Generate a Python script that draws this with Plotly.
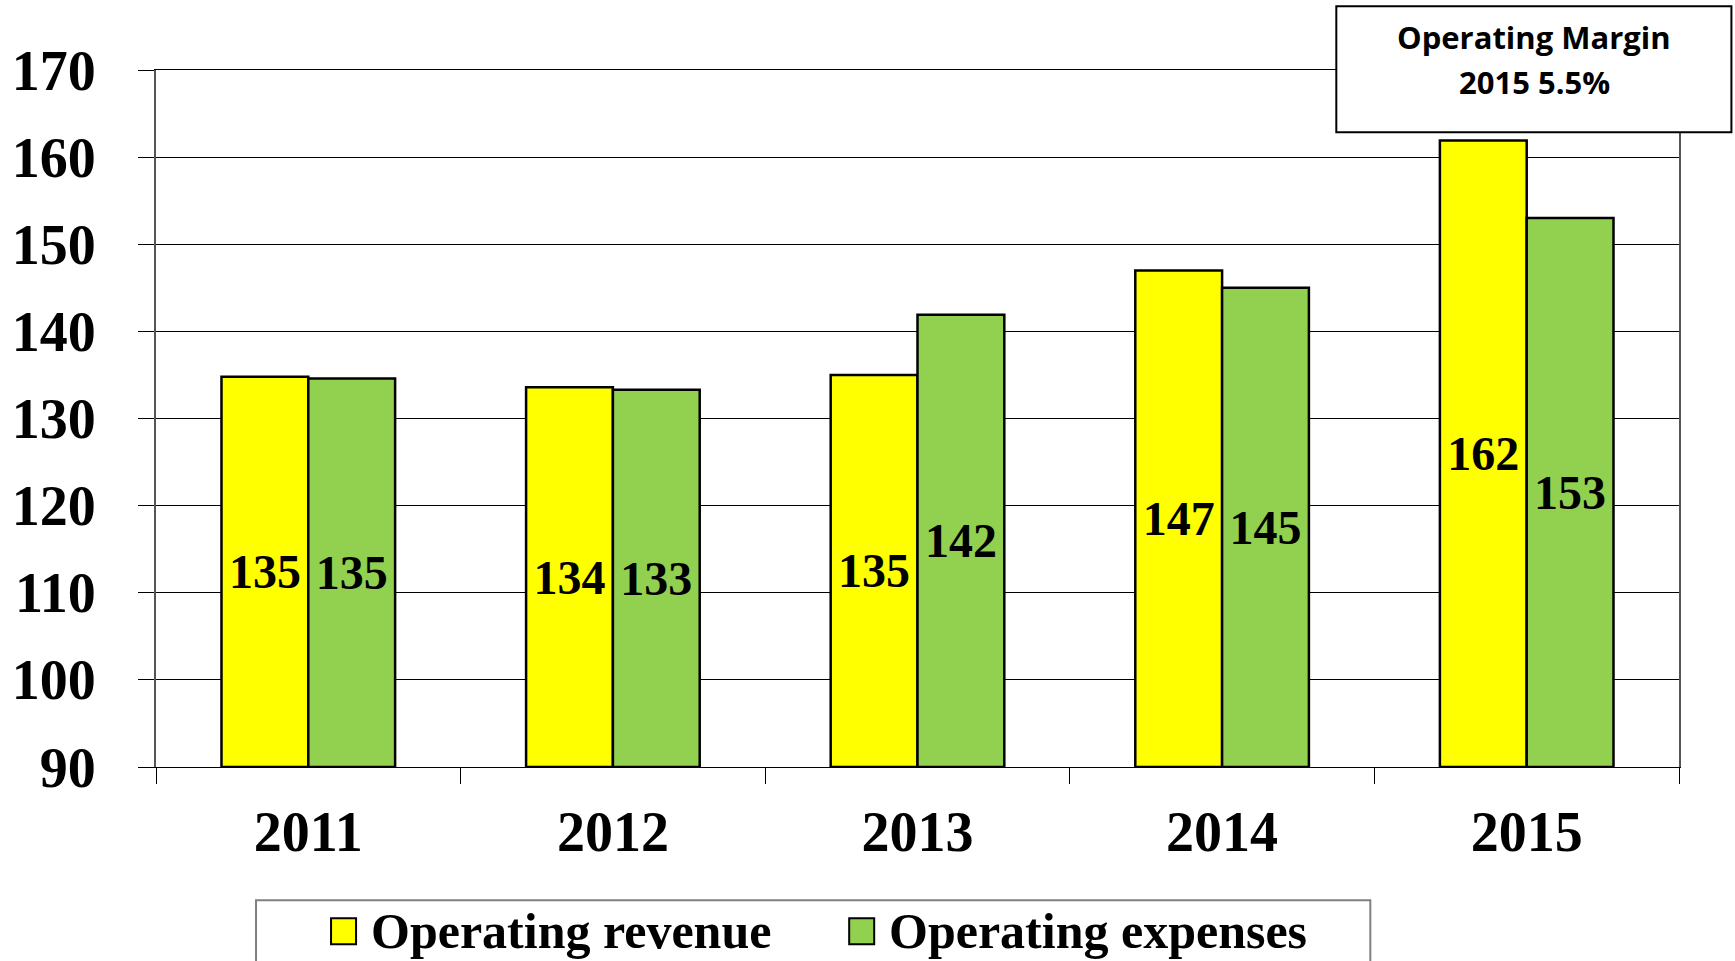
import plotly.graph_objects as go

years = ["2011", "2012", "2013", "2014", "2015"]
revenue = [134.8, 133.6, 135.0, 147.0, 161.9]
expenses = [134.6, 133.3, 141.9, 145.0, 153.0]
series_names = ["Operating revenue", "Operating expenses"]
y_ticks = [90, 100, 110, 120, 130, 140, 150, 160, 170]
note_lines = ["Operating Margin", "2015 5.5%"]
axis_base = 90

W, H = 1735, 961
L, R, T, B = 156, 1678.6, 69.7, 766.8   # page coords of plot area
YELLOW = "#FFFF00"
GREEN = "#92D050"
SERIF = "Liberation Serif"


def px(x):
    return (x - L) / (R - L)


def py(y):
    return (B - y) / (B - T)


fig = go.Figure()
for name, vals, col in [(series_names[0], revenue, YELLOW), (series_names[1], expenses, GREEN)]:
    fig.add_trace(go.Bar(
        x=years, y=[v - axis_base for v in vals], base=axis_base, name=name,
        customdata=vals,
        marker=dict(color=col, line=dict(color="black", width=2.5)),
        texttemplate="%{customdata:.0f}", textposition="inside", insidetextanchor="middle",
        textangle=0, textfont=dict(family=SERIF, size=48, color="black", weight="bold"),
        hovertemplate="%{x}: %{customdata}<extra>" + name + "</extra>",
        cliponaxis=False, showlegend=False,
    ))

shapes = []
annotations = []

# Note box top-right
shapes.append(dict(type="rect", xref="paper", yref="paper",
                   x0=px(1336), x1=px(1731), y0=py(6), y1=py(132),
                   line=dict(color="black", width=2), fillcolor="white", layer="above"))
for txt, yy in [(note_lines[0], 37), (note_lines[1], 82)]:
    annotations.append(dict(xref="paper", yref="paper", x=px(1534), y=py(yy),
                            text=txt, showarrow=False,
                            font=dict(family="Open Sans", size=31, color="black", weight="bold"),
                            xanchor="center", yanchor="middle"))

# Manual legend
shapes.append(dict(type="rect", xref="paper", yref="paper",
                   x0=px(256), x1=px(1370), y0=py(900), y1=py(975),
                   line=dict(color="#808080", width=2), fillcolor="white", layer="above"))
legend_items = [(331, 369, YELLOW, series_names[0]), (849, 887, GREEN, series_names[1])]
for sx, tx, col, name in legend_items:
    shapes.append(dict(type="rect", xref="paper", yref="paper",
                       x0=px(sx), x1=px(sx + 25), y0=py(918), y1=py(944),
                       line=dict(color="black", width=2), fillcolor=col, layer="above"))
    annotations.append(dict(xref="paper", yref="paper", x=px(tx), y=py(931),
                            text=name, showarrow=False,
                            font=dict(family=SERIF, size=50, color="black", weight="bold"),
                            xanchor="left", yanchor="middle"))

fig.update_layout(
    width=W, height=H,
    margin=dict(l=L, r=W - R, t=T, b=H - B, pad=0),
    paper_bgcolor="white", plot_bgcolor="white",
    barmode="group", bargap=0.43, bargroupgap=0,
    shapes=shapes, annotations=annotations,
    showlegend=False,
    xaxis=dict(
        type="category", showgrid=False, showline=True, linecolor="black", linewidth=1,
        mirror=True, ticks="outside", tickson="boundaries", ticklen=16, tickcolor="black",
        tickfont=dict(family=SERIF, size=56, color="black", weight="bold"), ticklabelstandoff=16,
        automargin=False,
    ),
    yaxis=dict(
        range=[90, 170], tickvals=y_ticks, showgrid=True, gridcolor="black", gridwidth=1,
        showline=True, linecolor="#555555", linewidth=2, mirror=True,
        ticks="outside", ticklen=16, tickcolor="black",
        tickfont=dict(family=SERIF, size=56, color="black", weight="bold"), ticklabelstandoff=31,
        zeroline=False, automargin=False,
    ),
)

fig.write_html("out.html", config={"displayModeBar": False},
               post_script="document.body.style.margin='0';")
